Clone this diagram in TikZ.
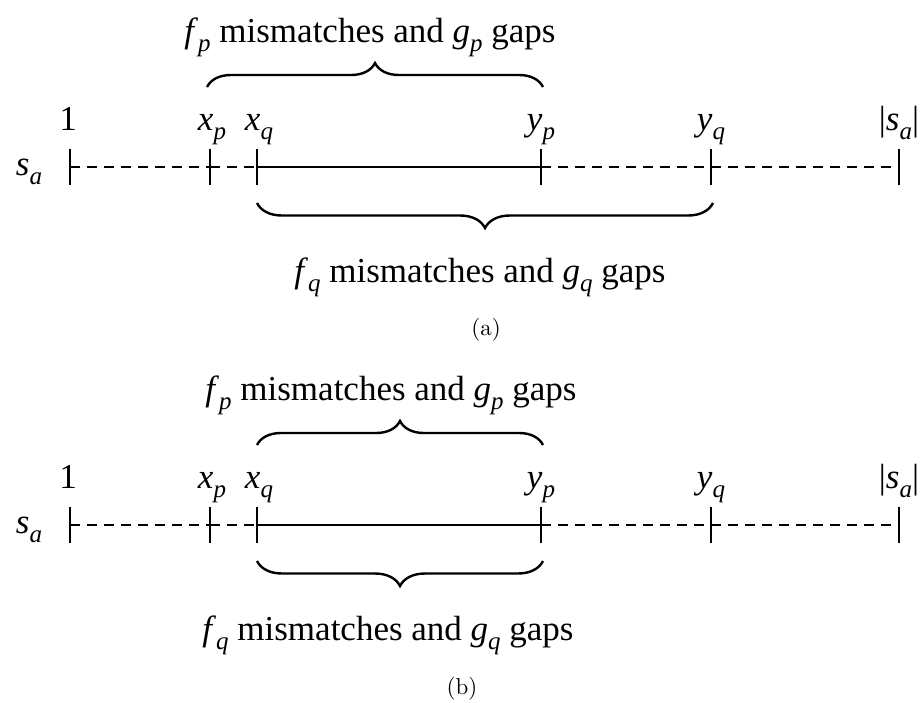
\documentclass[tikz,border=0pt]{standalone}
\usepackage{fontspec}
\setmainfont{Liberation Serif}
\newfontfamily\lmfont[Extension=.otf]{lmroman10-regular}
\usetikzlibrary{decorations.pathreplacing}
\newcommand\vs[2]{\textit{#1}\raisebox{-0.28em}{\fontsize{25}{25}\selectfont\textit{#2}}}
\newcommand\bigtxt{\fontsize{35}{42}\selectfont}
\begin{document}
\begin{tikzpicture}[x=1pt,y=-1pt,
  lbl/.style={font=\bigtxt, anchor=base, inner sep=0pt},
  captxt/.style={font=\fontsize{23}{27}\selectfont\lmfont, inner sep=0pt},
  tickn/.style={shape=rectangle, minimum width=0pt, minimum height=35pt, inner sep=0pt},
  tickline/.style={line width=2.8pt},
  seg/.style={line width=2.4pt},
  dashseg/.style={line width=2.4pt, dash pattern=on 10pt off 7pt},
  brc/.style={decorate, decoration={brace, amplitude=24pt}, line width=2.4pt},
  brcm/.style={decorate, decoration={brace, amplitude=25pt, mirror}, line width=2.4pt}]
\useasboundingbox (0,0) rectangle (923,702);

% ---------- (a) ----------
\node[lbl] (saA) at (29,175) {\vs{s}{a}};
\foreach \nm/\xx in {oneA/70, xpA/210, xqA/257, ypA/541, yqA/711, endA/899}
  \node[tickn] (\nm) at (\xx,167) {};
\foreach \nm in {oneA, xpA, xqA, ypA, yqA, endA}
  \draw[tickline] (\nm.north) -- (\nm.south);
\draw[dashseg] (oneA.center) -- (xpA.center);
\draw[dashseg] (xpA.center) -- (xqA.center);
\draw[seg] (xqA.center) -- (ypA.center);
\draw[dashseg] (ypA.center) -- (yqA.center);
\draw[dashseg] (yqA.center) -- (endA.center);

\node[lbl] (l1A) at (68,130) {1};
\node[lbl] (lxpA) at (212,130) {\vs{x}{p}};
\node[lbl] (lxqA) at (259,130) {\vs{x}{q}};
\node[lbl] (lypA) at (541,130) {\vs{y}{p}};
\node[lbl] (lyqA) at (711,130) {\vs{y}{q}};
\node[lbl] (lendA) at (899,130) {|\vs{s}{a}|};

\coordinate (bpA1) at (207,87);
\coordinate (bpA2) at (543,87);
\draw[brc] (bpA1) -- (bpA2);
\node[lbl] (tpA) at (370,42) {\vs{f}{p} mismatches and \vs{g}{p} gaps};

\coordinate (bqA1) at (257,203);
\coordinate (bqA2) at (713,203);
\draw[brcm] (bqA1) -- (bqA2);
\node[lbl] (tqA) at (480,282) {\vs{f}{q} mismatches and \vs{g}{q} gaps};

\node[captxt] (capA) at (486,330) {(a)};

% ---------- (b) ----------
\node[lbl] (saB) at (29,533) {\vs{s}{a}};
\foreach \nm/\xx in {oneB/70, xpB/210, xqB/257, ypB/541, yqB/711, endB/899}
  \node[tickn] (\nm) at (\xx,525) {};
\foreach \nm in {oneB, xpB, xqB, ypB, yqB, endB}
  \draw[tickline] (\nm.north) -- (\nm.south);
\draw[dashseg] (oneB.center) -- (xpB.center);
\draw[dashseg] (xpB.center) -- (xqB.center);
\draw[seg] (xqB.center) -- (ypB.center);
\draw[dashseg] (ypB.center) -- (yqB.center);
\draw[dashseg] (yqB.center) -- (endB.center);

\node[lbl] (l1B) at (68,488) {1};
\node[lbl] (lxpB) at (212,488) {\vs{x}{p}};
\node[lbl] (lxqB) at (259,488) {\vs{x}{q}};
\node[lbl] (lypB) at (541,488) {\vs{y}{p}};
\node[lbl] (lyqB) at (711,488) {\vs{y}{q}};
\node[lbl] (lendB) at (899,488) {|\vs{s}{a}|};

\coordinate (bpB1) at (257,445);
\coordinate (bpB2) at (543,445);
\draw[brc] (bpB1) -- (bpB2);
\node[lbl] (tpB) at (391,400) {\vs{f}{p} mismatches and \vs{g}{p} gaps};

\coordinate (bqB1) at (257,561);
\coordinate (bqB2) at (543,561);
\draw[brcm] (bqB1) -- (bqB2);
\node[lbl] (tqB) at (388,640) {\vs{f}{q} mismatches and \vs{g}{q} gaps};

\node[captxt] (capB) at (462,689) {(b)};
\end{tikzpicture}
\end{document}
